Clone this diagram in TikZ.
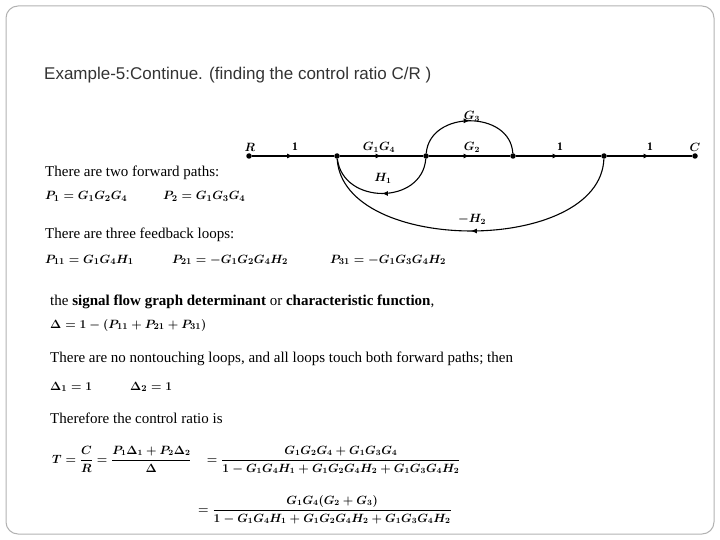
\documentclass[tikz,border=0pt]{standalone}
\usepackage{amsmath}
\usepackage{fontspec}
\setmainfont{Liberation Serif}
\newfontfamily\titlefont{Liberation Sans}
\usetikzlibrary{decorations.markings,arrows.meta}
\newcommand{\mm}[1]{{\fontsize{12.5}{14}\selectfont$\boldsymbol{#1}$}}
\tikzset{
  dot/.style={circle,fill=black,inner sep=0pt,minimum size=5.5pt},
  lbl/.style={font=\fontsize{11.5}{13}\selectfont\bfseries},
  txt/.style={anchor=base west,inner sep=0pt,font=\fontsize{15}{17}\selectfont},
  eqn/.style={anchor=base west,inner sep=0pt,font=\fontsize{12}{14}\selectfont},
  br/.style={line width=1.1pt,postaction={decorate},decoration={markings,mark=at position 0.5 with {\arrow{Latex[length=6pt,width=5pt]}}}},
}
\begin{document}
\begin{tikzpicture}[x=1pt,y=-1pt]
\useasboundingbox (0,0) rectangle (720,540);
\draw[gray!60,line width=1pt,rounded corners=12pt] (6,6) rectangle (714,534);
\node[anchor=base west,inner sep=0pt,font=\titlefont\fontsize{17}{20}\selectfont,text=black!80] (title) at (44,80) {Example-5:Continue. (finding the control ratio C/R )};
% graph
\node[dot] (R) at (249,156) {};
\node[dot] (a) at (337,156) {};
\node[dot] (b) at (426,156) {};
\node[dot] (c) at (513,156) {};
\node[dot] (d) at (604,156) {};
\node[dot] (C) at (695,156) {};
\draw[br] (R) -- (a);
\draw[br] (a) -- (b);
\draw[br] (b) -- (c);
\draw[br] (c) -- (d);
\draw[br] (d) -- (C);
\draw[br] (b) .. controls (430,110) and (510,110) .. (c);
\draw[br] (b) .. controls (422,205) and (343,205) .. (a);
\draw[br] (d) .. controls (600,255) and (343,255) .. (a);
\node[lbl] (lR) at (250,147) {$\boldsymbol{R}$};
\node[lbl] (l1) at (295,147) {1};
\node[lbl] (lG14) at (379,147) {$\boldsymbol{G_1G_4}$};
\node[lbl] (lG2) at (472,147) {$\boldsymbol{G_2}$};
\node[lbl] (l2) at (560,147) {1};
\node[lbl] (l3) at (650,147) {1};
\node[lbl] (lC) at (695,147) {$\boldsymbol{C}$};
\node[lbl] (lG3) at (472,116) {$\boldsymbol{G_3}$};
\node[lbl] (lH1) at (383,178) {$\boldsymbol{H_1}$};
\node[lbl] (lH2) at (472,219) {$\boldsymbol{-H_2}$};
% text
\node[txt] (t1) at (45,177) {There are two forward paths:};
\node[txt] (t2) at (45,200) {\mm{P_1=G_1G_2G_4}};
\node[txt] (t3) at (163,200) {\mm{P_2=G_1G_3G_4}};
\node[txt] (t4) at (45,239) {There are three feedback loops:};
\node[txt] (t5) at (45,263) {\mm{P_{11}=G_1G_4H_1}};
\node[txt] (t6) at (172,263) {\mm{P_{21}=-G_1G_2G_4H_2}};
\node[txt] (t7) at (330,263) {\mm{P_{31}=-G_1G_3G_4H_2}};
\node[txt] (t8) at (50,305) {the \textbf{signal flow graph determinant} or \textbf{characteristic function},};
\node[txt] (t9) at (50,328) {\mm{\Delta=1-(P_{11}+P_{21}+P_{31})}};
\node[txt] (t10) at (50,362) {There are no nontouching loops, and all loops touch both forward paths; then};
\node[txt] (t11) at (50,390) {\mm{\Delta_1=1}};
\node[txt] (t12) at (130,390) {\mm{\Delta_2=1}};
\node[txt] (t13) at (50,423) {Therefore the control ratio is};
\node[eqn] (e1) at (52,463) {$\displaystyle \boldsymbol{T=\frac{C}{R}=\frac{P_1\Delta_1+P_2\Delta_2}{\Delta}}\quad\boldsymbol{=\frac{G_1G_2G_4+G_1G_3G_4}{1-G_1G_4H_1+G_1G_2G_4H_2+G_1G_3G_4H_2}}$};
\node[eqn] (e2) at (198,513) {$\displaystyle \boldsymbol{=\frac{G_1G_4(G_2+G_3)}{1-G_1G_4H_1+G_1G_2G_4H_2+G_1G_3G_4H_2}}$};
\end{tikzpicture}
\end{document}
